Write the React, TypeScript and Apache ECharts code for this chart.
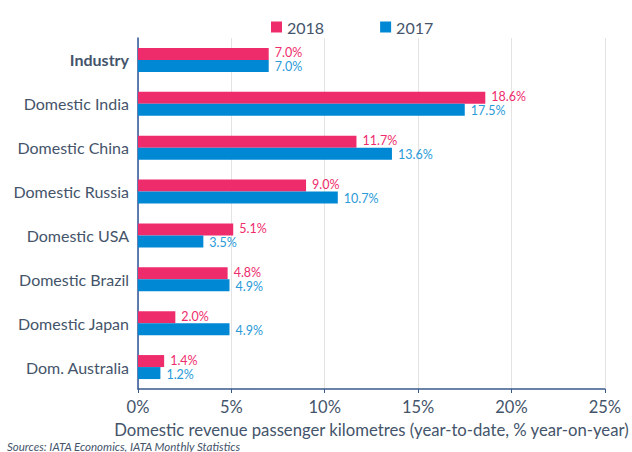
import React, { useEffect, useRef } from "react";
import * as echarts from "echarts";

const categories = [
  "Industry",
  "Domestic India",
  "Domestic China",
  "Domestic Russia",
  "Domestic USA",
  "Domestic Brazil",
  "Domestic Japan",
  "Dom. Australia",
];
const values2018 = [7.0, 18.6, 11.7, 9.0, 5.1, 4.8, 2.0, 1.4];
const values2017 = [7.0, 17.5, 13.6, 10.7, 3.5, 4.9, 4.9, 1.2];
const seriesNames = ["2018", "2017"];
const xTicks = [0, 5, 10, 15, 20, 25];

const FONT = "Lato, 'Open Sans', sans-serif";
const TEXT = "#44546A";
const PINK = "#EE2C6C";
const BLUE = "#0088D4";

export default function App() {
  const ref = useRef<HTMLDivElement>(null);
  useEffect(() => {
    if (!ref.current) return;
    const chart = echarts.init(ref.current, null, { renderer: "svg" });
    chart.setOption({
      animation: false,
      textStyle: { fontFamily: FONT },
      legend: {
        data: seriesNames,
        left: 266,
        top: 14,
        itemWidth: 11,
        itemHeight: 11,
        itemGap: 56,
        icon: "rect",
        textStyle: { fontSize: 16, color: TEXT, fontFamily: FONT },
      },
      grid: { left: 138, right: 23, top: 38, bottom: 63, containLabel: false },
      xAxis: {
        type: "value",
        min: xTicks[0],
        max: xTicks[xTicks.length - 1],
        interval: 5,
        name: "Domestic revenue passenger kilometres (year-to-date, % year-on-year)",
        nameLocation: "middle",
        nameGap: 32,
        nameTextStyle: { fontSize: 16.7, color: TEXT, fontFamily: FONT, lineHeight: 18 },
        axisLine: { show: true, lineStyle: { color: "#3A5A8C", width: 1.5 } },
        axisTick: { show: true, length: 4, lineStyle: { color: "#3A5A8C" } },
        axisLabel: {
          formatter: (v: number) => `${v}%`,
          fontSize: 16.5,
          color: TEXT,
          margin: 9,
          fontFamily: FONT,
        },
        splitLine: { show: true, lineStyle: { color: "#E3E3E3", width: 1 } },
      },
      yAxis: {
        type: "category",
        data: categories,
        inverse: true,
        axisLine: { show: true, lineStyle: { color: "#2F5597", width: 1.5 } },
        axisTick: { show: false },
        axisLabel: {
          fontSize: 16,
          color: TEXT,
          margin: 9,
          fontFamily: FONT,
          formatter: (v: string) => (v === "Industry" ? `{b|${v}}` : v),
          rich: { b: { fontWeight: "bold", fontSize: 16, color: TEXT, fontFamily: FONT } },
        },
      },
      series: [
        {
          name: seriesNames[0],
          type: "bar",
          data: values2018,
          barWidth: 12,
          barGap: "0%",
          itemStyle: { color: PINK },
          label: {
            show: true,
            position: "right",
            distance: 6,
            offset: [0, -1],
            formatter: (p: any) => `${p.value.toFixed(1)}%`,
            color: PINK,
            fontSize: 12.5,
            lineHeight: 12,
            fontFamily: FONT,
          },
        },
        {
          name: seriesNames[1],
          type: "bar",
          data: values2017,
          barWidth: 12,
          barGap: "0%",
          itemStyle: { color: BLUE },
          label: {
            show: true,
            position: "right",
            distance: 6,
            offset: [0, 1],
            formatter: (p: any) => `${p.value.toFixed(1)}%`,
            color: "#2A9AD8",
            fontSize: 12.5,
            lineHeight: 12,
            fontFamily: FONT,
          },
        },
      ],
      graphic: [
        {
          type: "text",
          left: 7,
          top: 440,
          style: {
            text: "Sources: IATA Economics, IATA Monthly Statistics",
            fontSize: 11.5,
            lineHeight: 12,
            fontStyle: "italic",
            fill: "#44546A",
            fontFamily: FONT,
          },
        },
      ],
    });
    return () => chart.dispose();
  }, []);
  return <div ref={ref} style={{ width: 632, height: 452, position: "absolute", left: 0, top: 0 }} />;
}
